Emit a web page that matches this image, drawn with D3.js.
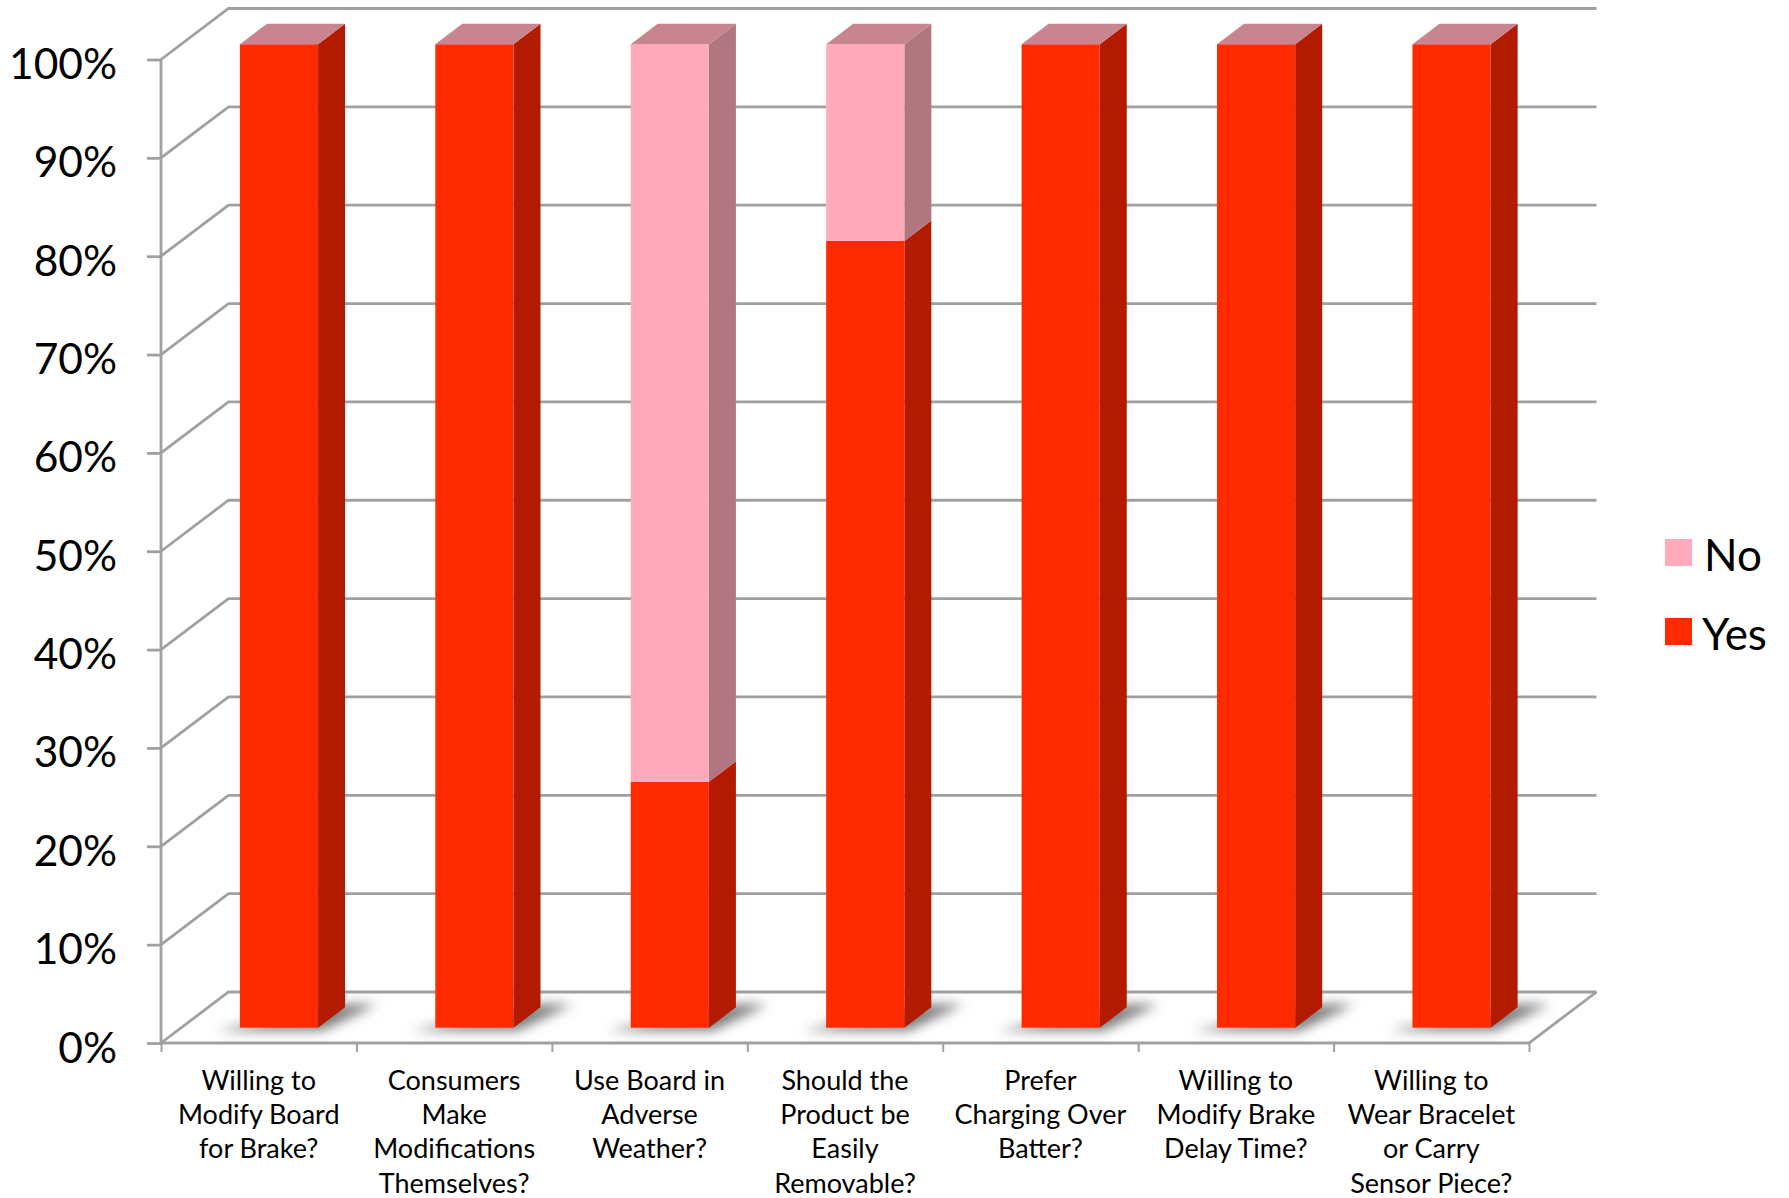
<!DOCTYPE html>
<html>
<head>
<meta charset="utf-8">
<title>Survey responses</title>
<script src="https://cdn.jsdelivr.net/npm/d3@7"></script>
<style>
  html, body { margin: 0; padding: 0; background: #fff; }
  svg { display: block; }
  text { font-family: Lato, "Open Sans", sans-serif; fill: #000; }
</style>
</head>
<body>
<div id="chart"></div>
<script>
// ── Data ──────────────────────────────────────────────
const categories = [
  "Willing to\nModify Board\nfor Brake?",
  "Consumers\nMake\nModifications\nThemselves?",
  "Use Board in\nAdverse\nWeather?",
  "Should the\nProduct be\nEasily\nRemovable?",
  "Prefer\nCharging Over\nBatter?",
  "Willing to\nModify Brake\nDelay Time?",
  "Willing to\nWear Bracelet\nor Carry\nSensor Piece?"
];
const yesValues = [100, 100, 25, 80, 100, 100, 100];
const noValues  = [0, 0, 75, 20, 0, 0, 0];
const yTicks = [0, 10, 20, 30, 40, 50, 60, 70, 80, 90, 100];
const legendNames = ["No", "Yes"];

const colors = {
  Yes: { front: "#ff2a00", side: "#b21b00" },
  No:  { front: "#ffabbb", side: "#b07781", top: "#c9858f" }
};
const lineColor = "#a0a0a0";

// ── Layout ────────────────────────────────────────────
const W = 1789, H = 1198;
const left = 161, right = 1529, top100 = 59.5, bottom0 = 1043;
const depthX = 67.5, depthY = 51;   // offset of the back wall
const zFront = 0.3, zBack = 0.7;    // where the bars sit in the depth

const svg = d3.select("#chart").append("svg").attr("width", W).attr("height", H);

const x = d3.scaleBand().domain(d3.range(categories.length))
  .range([left, right]).paddingInner(0.6).paddingOuter(0.3);
const xEdges = d3.scaleLinear().domain([0, categories.length]).range([left, right]);
const y = d3.scaleLinear().domain([0, 100]).range([bottom0, top100]);

// project a point (screen x, value, depth 0..1) onto the picture
const px = (sx, z) => sx + z * depthX;
const py = (v, z) => y(v) - z * depthY;
const pts = arr => arr.map(p => p.join(",")).join(" ");

const defs = svg.append("defs");
defs.append("filter").attr("id", "soft")
  .attr("x", "-30%").attr("y", "-80%").attr("width", "160%").attr("height", "260%")
  .append("feGaussianBlur").attr("stdDeviation", 6);

// ── Walls and grid ────────────────────────────────────
const walls = svg.append("g").attr("fill", "none").attr("stroke", lineColor).attr("stroke-width", 2.8);

yTicks.forEach(t => {
  walls.append("polyline")
    .attr("points", pts([[px(left, 0), py(t, 0)], [px(left, 1), py(t, 1)], [px(right, 1), py(t, 1)]]));
});
walls.append("line")
  .attr("x1", left).attr("x2", left).attr("y1", y(100)).attr("y2", y(0));
walls.append("polyline")
  .attr("points", pts([[px(left, 0), py(0, 0)], [px(right, 0), py(0, 0)], [px(right, 1), py(0, 1)]]));

// ── Axes ──────────────────────────────────────────────
const yAxis = svg.append("g").attr("transform", `translate(${left},0)`)
  .call(d3.axisLeft(y).tickValues(yTicks).tickSize(14).tickPadding(30).tickFormat(d => d + "%"));
yAxis.select(".domain").remove();
yAxis.selectAll("line").attr("stroke", lineColor).attr("stroke-width", 2.8);
yAxis.selectAll("text").attr("font-size", 42.5).attr("dy", 19)
  .style("font-family", "Lato, sans-serif");

const xTicks = svg.append("g").attr("transform", `translate(0,${bottom0})`)
  .call(d3.axisBottom(xEdges).tickValues(d3.range(categories.length + 1)).tickSize(9).tickFormat(""));
xTicks.select(".domain").remove();
xTicks.selectAll("line").attr("stroke", lineColor).attr("stroke-width", 2);

const xLabels = svg.append("g").attr("transform", `translate(0,${bottom0})`)
  .call(d3.axisBottom(x).tickSize(0).tickFormat(""));
xLabels.select(".domain").remove();
xLabels.selectAll("text")
  .attr("font-size", 27)
  .attr("y", 0)
  .attr("dy", 0)
  .each(function (d) {
    const t = d3.select(this);
    categories[d].split("\n").forEach((line, i) => {
      t.append("tspan").attr("x", 0).attr("y", 46.5 + i * 34.4).text(line);
    });
  });

// ── Bars ──────────────────────────────────────────────
const barLayer = svg.append("g");

categories.forEach((c, i) => {
  const x0 = x(i), x1 = x(i) + x.bandwidth();

  // soft shadow thrown on the floor
  barLayer.append("polygon")
    .attr("points", pts([
      [px(x0, zFront) - 24, py(0, zFront) + 3],
      [px(x1, zFront) + 4, py(0, zFront) + 3],
      [px(x1, zBack) + 32, py(0, zBack) - 3],
      [px(x1, zBack), py(0, zBack) - 3]
    ]))
    .attr("fill", "#7c7c7c")
    .attr("filter", "url(#soft)");

  const stack = [
    { name: "Yes", from: 0, to: yesValues[i] },
    { name: "No", from: yesValues[i], to: yesValues[i] + noValues[i] }
  ];

  stack.forEach(s => {
    const col = colors[s.name];
    barLayer.append("polygon")
      .attr("points", pts([
        [px(x1, zFront), py(s.from, zFront)], [px(x1, zBack), py(s.from, zBack)],
        [px(x1, zBack), py(s.to, zBack)], [px(x1, zFront), py(s.to, zFront)]
      ]))
      .attr("fill", col.side);
    barLayer.append("rect")
      .attr("x", px(x0, zFront)).attr("width", x.bandwidth())
      .attr("y", py(s.to, zFront)).attr("height", py(s.from, zFront) - py(s.to, zFront))
      .attr("fill", col.front);
  });

  // top cap always comes from the last series, even at zero height
  const total = yesValues[i] + noValues[i];
  barLayer.append("polygon")
    .attr("points", pts([
      [px(x0, zFront), py(total, zFront)], [px(x1, zFront), py(total, zFront)],
      [px(x1, zBack), py(total, zBack)], [px(x0, zBack), py(total, zBack)]
    ]))
    .attr("fill", colors.No.top);
});

// ── Legend ────────────────────────────────────────────
const legend = svg.append("g");
legendNames.forEach((name, i) => {
  const ly = 539 + i * 79;
  legend.append("rect").attr("x", 1665).attr("y", ly).attr("width", 27).attr("height", 27)
    .attr("fill", colors[name].front);
  legend.append("text").attr("x", name === "No" ? 1704 : 1702).attr("y", ly + 32)
    .attr("font-size", 44).text(name);
});
</script>
</body>
</html>
